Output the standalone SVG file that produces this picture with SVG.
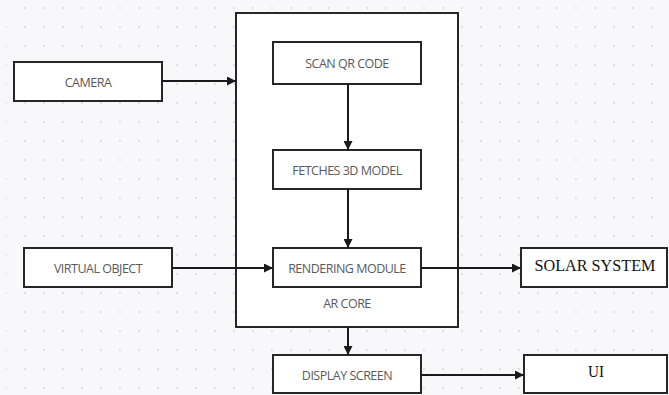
<svg xmlns="http://www.w3.org/2000/svg" width="669" height="395" viewBox="0 0 669 395">
<defs>
<pattern id="dots" x="4" y="6" width="19" height="19" patternUnits="userSpaceOnUse">
<circle cx="2" cy="2" r="0.9" fill="#d2d2d8"/>
</pattern>
<marker id="arr" viewBox="0 0 10 10" refX="10" refY="5" markerWidth="9" markerHeight="9" markerUnits="userSpaceOnUse" orient="auto">
<path d="M0,0 L10,5 L0,10 Z" fill="#1a1a1a"/>
</marker>
<style>
.box{fill:#ffffff;stroke:#262626;stroke-width:2}
.lbl{font-family:"Open Sans","Liberation Sans",sans-serif;font-size:12.5px;fill:#5a5a5a;text-anchor:middle;letter-spacing:-0.5px}
.ser{font-family:"Liberation Serif",serif;font-size:17px;fill:#111;text-anchor:middle}
.con{stroke:#1a1a1a;stroke-width:2;fill:none;marker-end:url(#arr)}
</style>
</defs>
<rect width="669" height="395" fill="#f8f8fa"/>
<rect x="6" y="6" width="663" height="389" fill="url(#dots)"/>
<g id="arcore">
<rect class="box" x="236" y="13" width="222" height="314"/>
<text class="lbl" x="347" y="308">AR CORE</text>
</g>
<g id="camera">
<rect class="box" x="14" y="62" width="148" height="39"/>
<text class="lbl" x="88" y="87">CAMERA</text>
</g>
<g id="scan">
<rect class="box" x="273" y="42" width="148" height="42"/>
<text class="lbl" x="347" y="68">SCAN QR CODE</text>
</g>
<g id="fetch">
<rect class="box" x="273" y="150" width="148" height="39"/>
<text class="lbl" x="347" y="175">FETCHES 3D MODEL</text>
</g>
<g id="virtual">
<rect class="box" x="24" y="248" width="148" height="39"/>
<text class="lbl" x="98" y="273">VIRTUAL OBJECT</text>
</g>
<g id="render">
<rect class="box" x="273" y="248" width="148" height="39"/>
<text class="lbl" x="347" y="273">RENDERING MODULE</text>
</g>
<g id="solar">
<rect class="box" x="521" y="248" width="146" height="39"/>
<text class="ser" x="595" y="271" textLength="121" lengthAdjust="spacingAndGlyphs">SOLAR SYSTEM</text>
</g>
<g id="display">
<rect class="box" x="273" y="355" width="148" height="38"/>
<text class="lbl" x="347" y="380">DISPLAY SCREEN</text>
</g>
<g id="ui">
<rect class="box" x="524" y="355" width="143" height="38"/>
<text class="ser" x="596" y="377" textLength="16" lengthAdjust="spacingAndGlyphs">UI</text>
</g>
<g id="connectors">
<line class="con" x1="162" y1="81" x2="236" y2="81"/>
<line class="con" x1="348" y1="84" x2="348" y2="150"/>
<line class="con" x1="348" y1="189" x2="348" y2="248"/>
<line class="con" x1="172" y1="268" x2="273" y2="268"/>
<line class="con" x1="421" y1="268" x2="521" y2="268"/>
<line class="con" x1="348" y1="327" x2="348" y2="355"/>
<line class="con" x1="421" y1="375" x2="524" y2="375"/>
</g>
</svg>
